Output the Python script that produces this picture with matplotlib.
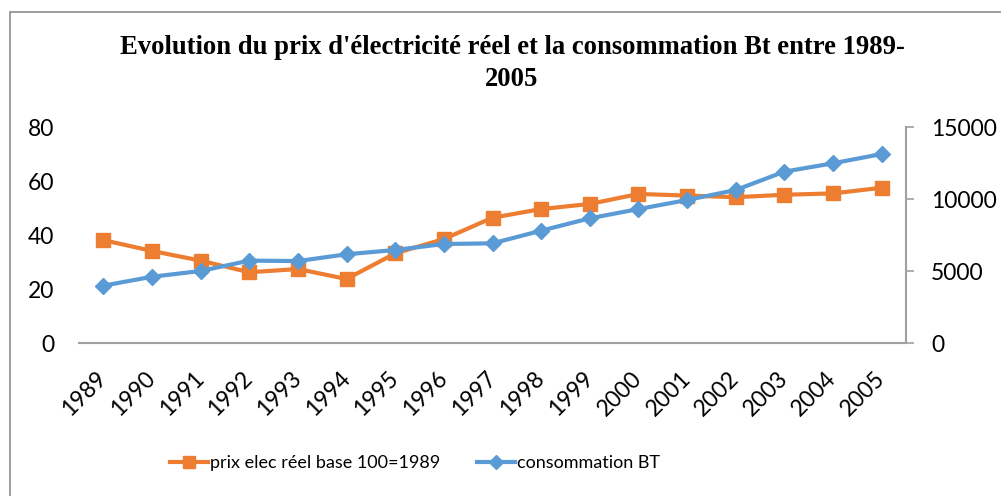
import matplotlib.pyplot as plt
from matplotlib.patches import Rectangle

# --- DATA ---
years = [str(y) for y in range(1989, 2006)]
prix_reel = [38.1, 34.1, 30.5, 26.2, 27.4, 23.7, 33.2, 38.5, 46.4,
             49.6, 51.5, 55.2, 54.6, 54.0, 54.9, 55.4, 57.5]
conso_bt = [3980, 4600, 5000, 5720, 5690, 6160, 6460, 6875, 6920,
            7800, 8660, 9300, 9930, 10625, 11900, 12480, 13125]

ORANGE = '#ED7D31'
BLUE = '#5B9BD5'
GREY = '#A0A0A0'
FONT = 'Lato'

W, H = 1001, 496
fig = plt.figure(figsize=(W / 100, H / 100), dpi=100)

# chart border (Excel chart area)
fig.patches.append(Rectangle((10 / W, -0.05), 1.2, 1 - 12 / H + 0.05,
                             transform=fig.transFigure, fill=False,
                             edgecolor='#8C8C8C', linewidth=1.2))

ax = fig.add_axes([79 / W, 1 - 343 / H, (906 - 79) / W, (343 - 127) / H])
ax2 = ax.twinx()

x = list(range(len(years)))
l1, = ax.plot(x, prix_reel, color=ORANGE, lw=3, marker='s', ms=10.5,
              label='prix elec réel base 100=1989', zorder=3)
l2, = ax2.plot(x, conso_bt, color=BLUE, lw=3, marker='D', ms=8.5,
               label='consommation BT', zorder=3)

ax.set_xlim(-0.5, len(years) - 0.5)
ax.set_ylim(0, 80)
ax.set_yticks([0, 20, 40, 60, 80])
ax2.set_ylim(0, 15000)
ax2.set_yticks([0, 5000, 10000, 15000])

for a in (ax, ax2):
    for s in a.spines.values():
        s.set_visible(False)
ax.spines['bottom'].set_visible(True)
ax.spines['bottom'].set_color(GREY)
ax.spines['bottom'].set_linewidth(1.5)
ax2.spines['right'].set_visible(True)
ax2.spines['right'].set_color(GREY)
ax2.spines['right'].set_linewidth(1.5)

ax.tick_params(axis='y', length=0, pad=18, labelsize=16.5)
ax2.tick_params(axis='y', length=6, width=1.2, color=GREY, pad=12, labelsize=16.5)
ax.set_xticks(x)
ax.set_xticklabels(years, rotation=45, ha='right', va='center',
                   rotation_mode='anchor', fontsize=16.5)
ax.tick_params(axis='x', length=0, pad=23)
for lab in ax.get_yticklabels() + ax2.get_yticklabels() + ax.get_xticklabels():
    lab.set_family(FONT)

fig.text(512 / W, 1 - 47 / H,
         "Evolution du prix d'électricité réel et la consommation Bt entre 1989-",
         ha='center', va='center', family='Liberation Serif', weight='bold', fontsize=19.2)
fig.text(512 / W, 1 - 79 / H, "2005",
         ha='center', va='center', family='Liberation Serif', weight='bold', fontsize=19.2)

fig.legend(handles=[l1, l2], loc='center', bbox_to_anchor=(415 / W, 1 - 463 / H),
           ncol=2, frameon=False, prop={'family': FONT, 'size': 13},
           handlelength=2.1, handletextpad=0.15, columnspacing=2.0, markerscale=0.8)

fig.savefig('out.png', dpi=100)
